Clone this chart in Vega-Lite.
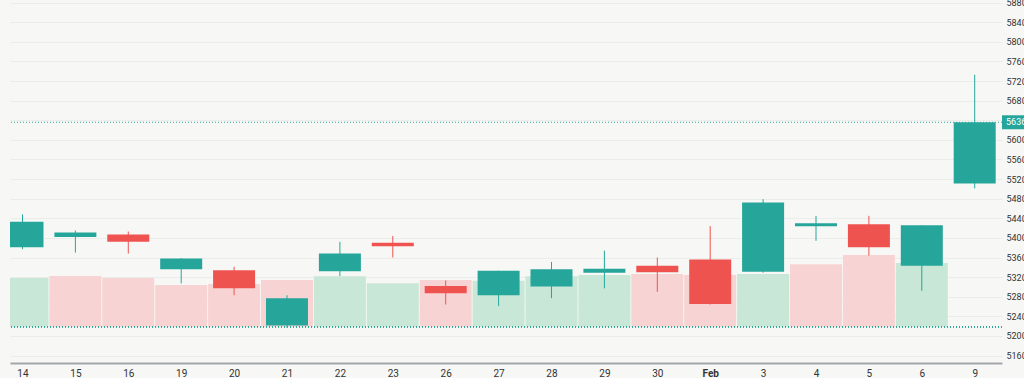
{
  "$schema": "https://vega.github.io/schema/vega-lite/v6.json",
  "width": 992,
  "height": 363,
  "autosize": {"type": "none"},
  "padding": {"left": 10, "top": 0, "right": 22, "bottom": 15},
  "background": "#f7f8f6",
  "config": {"view": {"stroke": null}, "font": "Roboto", "scale": {"continuousPadding": 0}},
  "data": {
    "values": [
      {"i": 0, "d": "14", "open": 5381, "high": 5448, "low": 5377, "close": 5433, "volume": 48700, "vdir": "up"},
      {"i": 1, "d": "15", "open": 5402, "high": 5415, "low": 5370, "close": 5411, "volume": 50700, "vdir": "down"},
      {"i": 2, "d": "16", "open": 5407, "high": 5413, "low": 5368, "close": 5392, "volume": 48700, "vdir": "down"},
      {"i": 3, "d": "19", "open": 5336, "high": 5359, "low": 5307, "close": 5358, "volume": 41700, "vdir": "down"},
      {"i": 4, "d": "20", "open": 5334, "high": 5341, "low": 5283, "close": 5297, "volume": 42700, "vdir": "down"},
      {"i": 5, "d": "21", "open": 5221, "high": 5283, "low": 5217, "close": 5277, "volume": 46700, "vdir": "down"},
      {"i": 6, "d": "22", "open": 5332, "high": 5392, "low": 5322, "close": 5368, "volume": 50400, "vdir": "up"},
      {"i": 7, "d": "23", "open": 5390, "high": 5404, "low": 5360, "close": 5383, "volume": 43400, "vdir": "up"},
      {"i": 8, "d": "26", "open": 5302, "high": 5313, "low": 5264, "close": 5287, "volume": 46700, "vdir": "down"},
      {"i": 9, "d": "27", "open": 5283, "high": 5333, "low": 5261, "close": 5333, "volume": 46000, "vdir": "up"},
      {"i": 10, "d": "28", "open": 5301, "high": 5351, "low": 5277, "close": 5336, "volume": 50400, "vdir": "up"},
      {"i": 11, "d": "29", "open": 5329, "high": 5374, "low": 5297, "close": 5337, "volume": 51700, "vdir": "up"},
      {"i": 12, "d": "30", "open": 5343, "high": 5360, "low": 5290, "close": 5330, "volume": 52700, "vdir": "down"},
      {"i": 13, "d": "Feb", "open": 5356, "high": 5424, "low": 5264, "close": 5265, "volume": 51700, "vdir": "down"},
      {"i": 14, "d": "3", "open": 5331, "high": 5479, "low": 5329, "close": 5472, "volume": 52700, "vdir": "up"},
      {"i": 15, "d": "4", "open": 5424, "high": 5445, "low": 5394, "close": 5430, "volume": 62400, "vdir": "down"},
      {"i": 16, "d": "5", "open": 5428, "high": 5445, "low": 5364, "close": 5381, "volume": 71700, "vdir": "down"},
      {"i": 17, "d": "6", "open": 5343, "high": 5426, "low": 5292, "close": 5426, "volume": 63700, "vdir": "up"},
      {"i": 18, "d": "9", "open": 5511, "high": 5733, "low": 5501, "close": 5636, "volume": 0, "vdir": "up"}
    ]
  },
  "encoding": {
    "x": {
      "field": "i",
      "type": "quantitative",
      "scale": {"domain": [-0.236, 18.516], "nice": false, "zero": false, "padding": 0},
      "axis": {
        "values": [0, 1, 2, 3, 4, 5, 6, 7, 8, 9, 10, 11, 12, 13, 14, 15, 16, 17, 18],
        "labelExpr": "['14','15','16','19','20','21','22','23','26','27','28','29','30','Feb','3','4','5','6','9'][datum.value]",
        "title": null,
        "grid": false,
        "ticks": false,
        "domainColor": "#a3a6ab",
        "domainWidth": 2,
        "labelColor": "#333333",
        "labelFontSize": 10,
        "labelPadding": 5,
        "labelFlush": false,
        "labelOverlap": false,
        "labelFontWeight": {"expr": "datum.value == 13 ? 'bold' : 'normal'"}
      }
    }
  },
  "layer": [
    {
      "encoding": {
        "y": {
          "field": "volume",
          "type": "quantitative",
          "scale": {"domain": [-36300, 326700], "nice": false, "zero": false, "padding": 0},
          "axis": null
        }
      },
      "layer": [
        {
          "mark": {"type": "bar", "size": 52, "clip": true},
          "encoding": {
            "y2": {"datum": 0},
            "color": {
              "condition": {"test": "datum.vdir == 'up'", "value": "#c8e7d6"},
              "value": "#f7d4d3"
            }
          }
        },
        {
          "mark": {"type": "rule", "color": "#26a69a", "strokeDash": [1, 2], "opacity": 0.6, "strokeWidth": 1},
          "encoding": {"y": {"datum": 0}, "x": null}
        }
      ]
    },
    {
      "encoding": {
        "y": {
          "field": "low",
          "type": "quantitative",
          "scale": {"domain": [5144.7, 5885.5], "nice": false, "zero": false, "padding": 0},
          "axis": {
            "orient": "right",
            "values": [5160, 5200, 5240, 5280, 5320, 5360, 5400, 5440, 5480, 5520, 5560, 5600, 5640, 5680, 5720, 5760, 5800, 5840, 5880],
            "labelExpr": "datum.value == 5640 ? '' : datum.label",
            "format": "d",
            "title": null,
            "grid": true,
            "gridColor": "#ebedea",
            "domain": false,
            "ticks": false,
            "labelPadding": 4,
            "labelAlign": "left",
            "labelBaseline": "middle",
            "labelColor": "#333333",
            "labelFontSize": 9,
            "labelFlush": false,
            "labelOverlap": false
          }
        }
      },
      "layer": [
        {
          "mark": {"type": "rule", "strokeWidth": 1, "clip": true},
          "encoding": {
            "y2": {"field": "high"},
            "color": {
              "condition": {"test": "datum.close >= datum.open", "value": "#26a69a"},
              "value": "#ef5350"
            }
          }
        },
        {
          "mark": {"type": "bar", "size": 42, "clip": true},
          "encoding": {
            "y": {"field": "open", "type": "quantitative"},
            "y2": {"field": "close"},
            "color": {
              "condition": {"test": "datum.close >= datum.open", "value": "#26a69a"},
              "value": "#ef5350"
            }
          }
        },
        {
          "transform": [{"filter": "datum.i == 18"}],
          "mark": {"type": "rule", "color": "#26a69a", "strokeDash": [1, 2], "strokeWidth": 1},
          "encoding": {"y": {"field": "close", "type": "quantitative"}, "x": null}
        },
        {
          "transform": [{"filter": "datum.i == 18"}],
          "mark": {"type": "tick", "orient": "horizontal", "color": "#26a69a", "thickness": 14, "size": 28, "opacity": 1, "clip": false},
          "encoding": {"y": {"field": "close", "type": "quantitative"}, "x": {"datum": 18.781}}
        },
        {
          "transform": [{"filter": "datum.i == 18"}],
          "mark": {"type": "text", "color": "#ffffff", "align": "left", "baseline": "middle", "fontSize": 9, "clip": false},
          "encoding": {"y": {"field": "close", "type": "quantitative"}, "x": {"datum": 18.592}, "text": {"field": "close", "type": "quantitative", "format": "d"}}
        }
      ]
    }
  ],
  "resolve": {"scale": {"y": "independent"}, "axis": {"y": "independent"}}
}
